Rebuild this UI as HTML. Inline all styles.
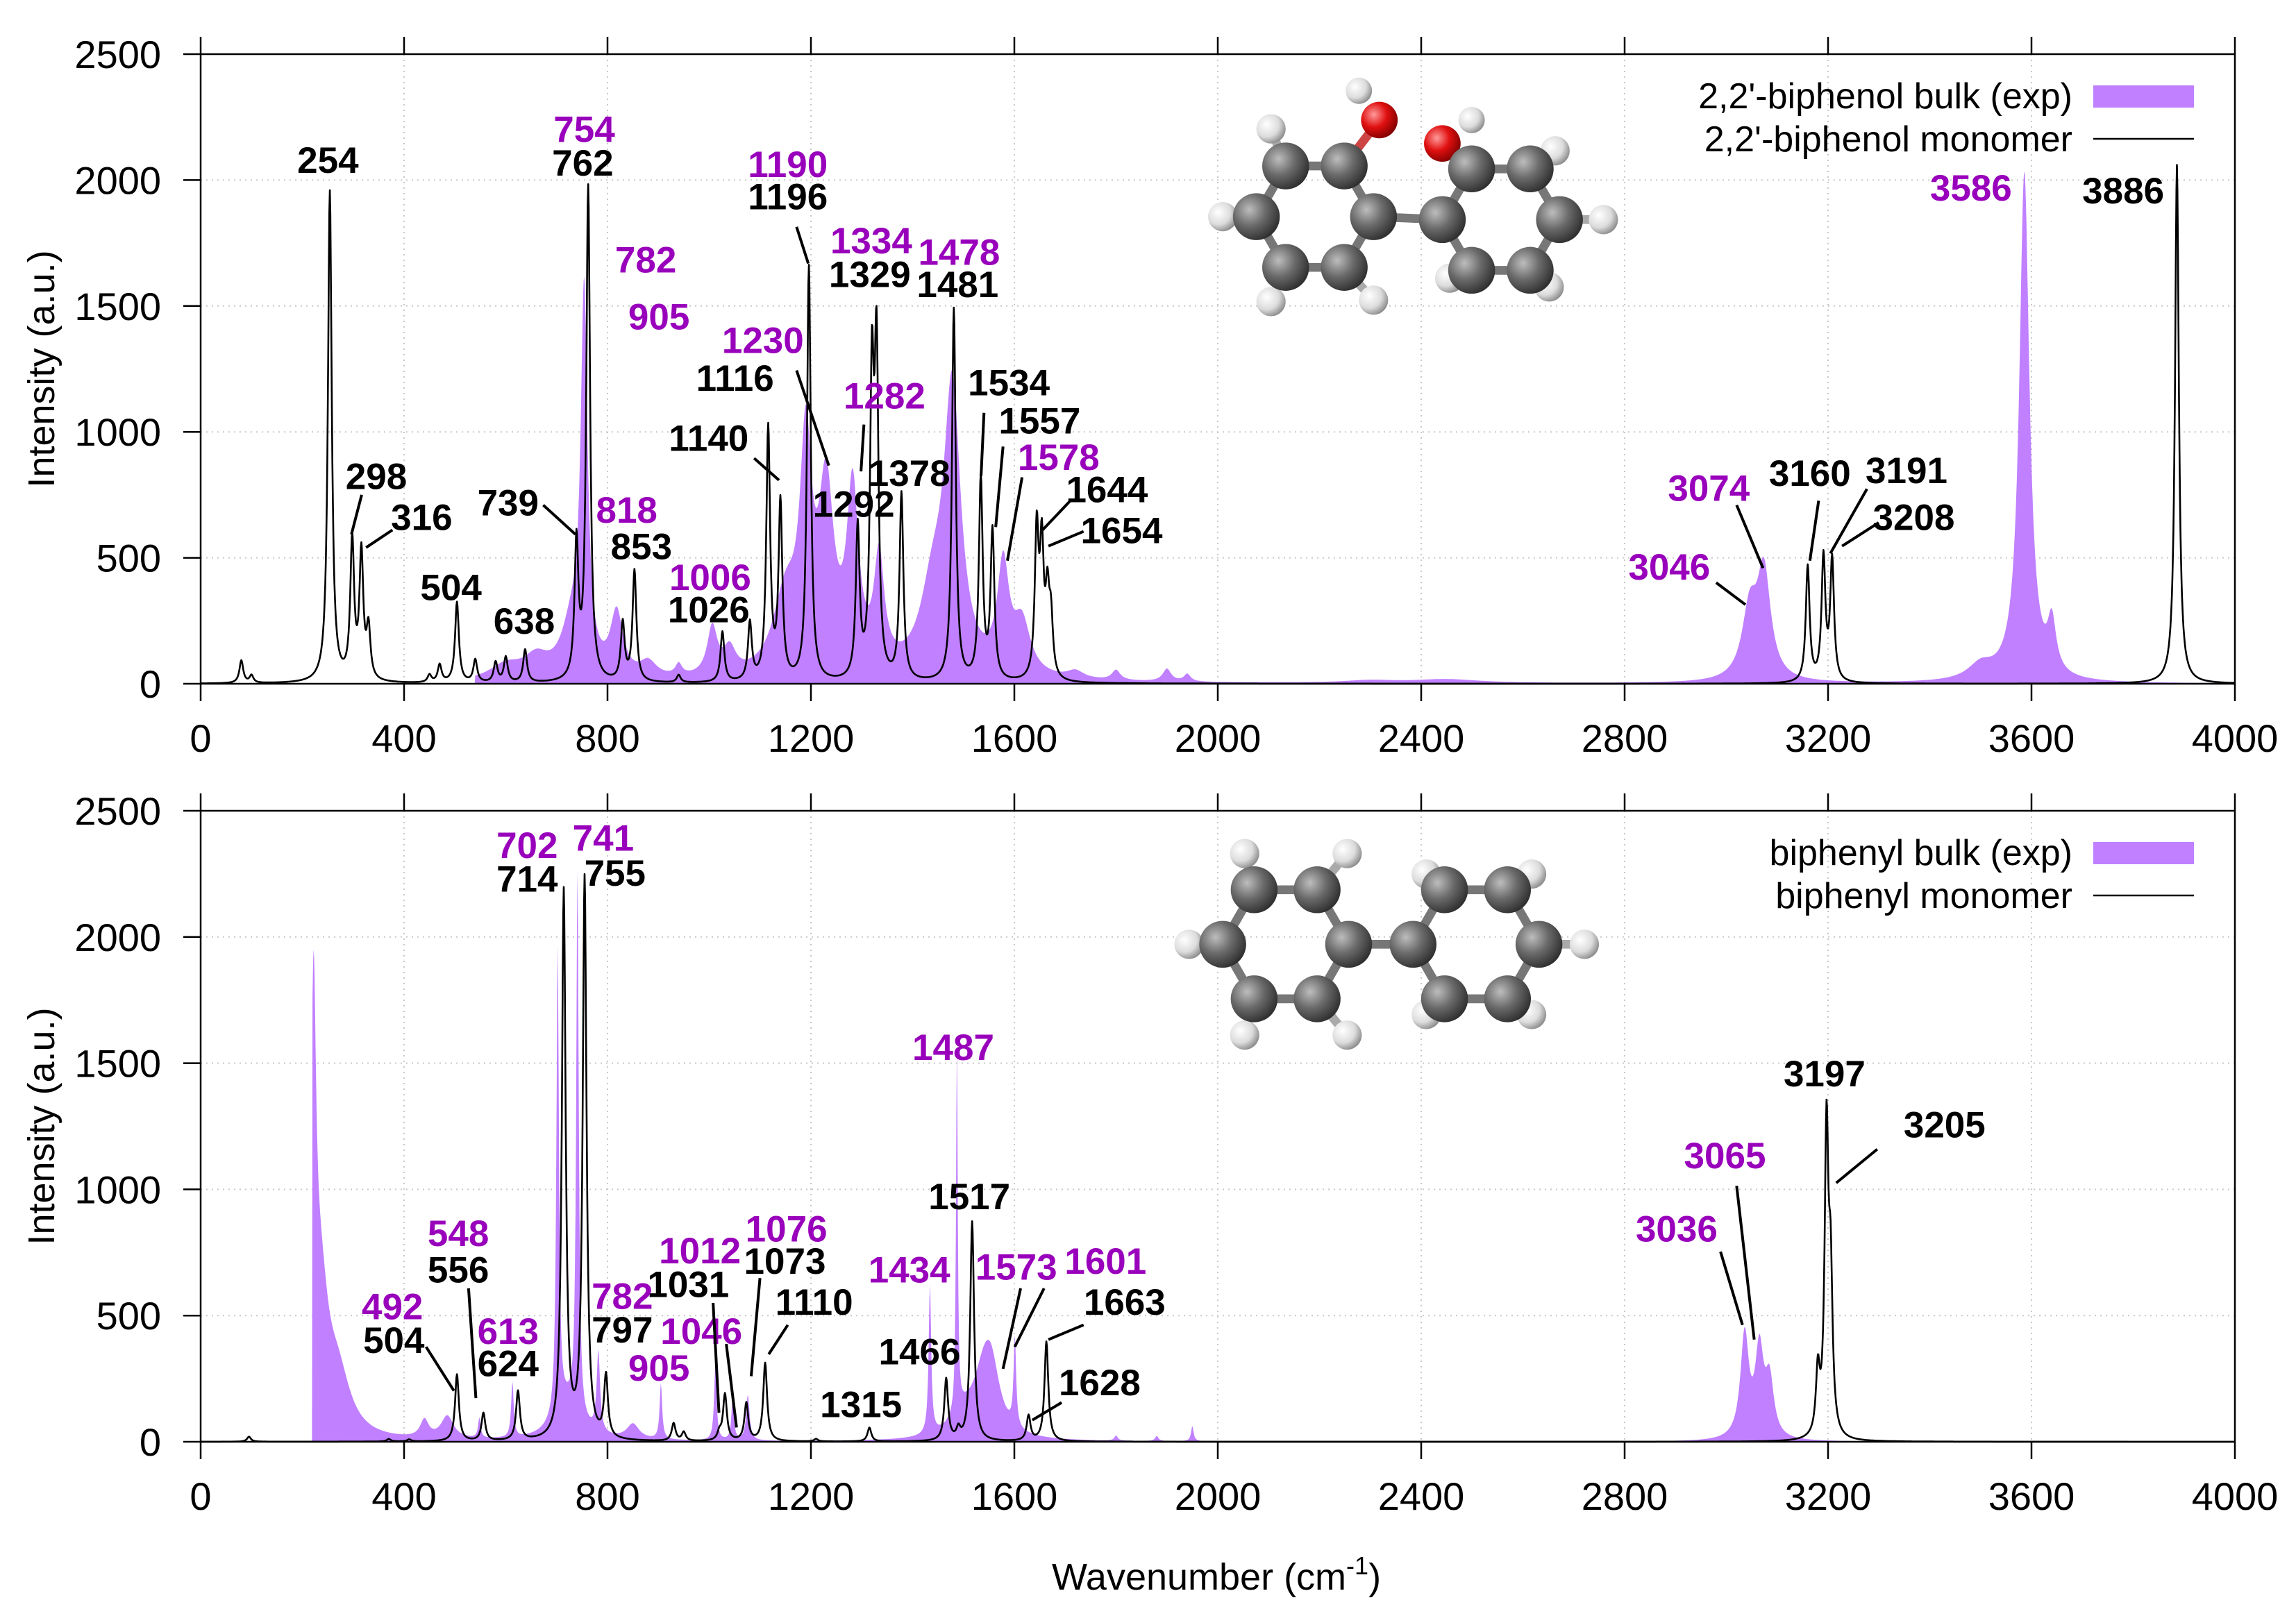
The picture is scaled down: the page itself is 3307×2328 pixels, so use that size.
<!DOCTYPE html>
<html><head><meta charset="utf-8"><style>
html,body{margin:0;padding:0;background:#fff;}
svg{display:block;font-family:"Liberation Sans",sans-serif;}
</style></head><body>
<svg id="chart" width="3307" height="2328" viewBox="0 0 3307 2328" xmlns="http://www.w3.org/2000/svg">
<defs>
<radialGradient id="gC" cx="35%" cy="35%" r="70%"><stop offset="0" stop-color="#bdbdbd"/><stop offset="0.5" stop-color="#6a6a6a"/><stop offset="1" stop-color="#2e2e2e"/></radialGradient>
<radialGradient id="gH" cx="35%" cy="35%" r="70%"><stop offset="0" stop-color="#ffffff"/><stop offset="0.6" stop-color="#dcdcdc"/><stop offset="1" stop-color="#8a8a8a"/></radialGradient>
<radialGradient id="gO" cx="35%" cy="35%" r="70%"><stop offset="0" stop-color="#ff9a9a"/><stop offset="0.5" stop-color="#e01010"/><stop offset="1" stop-color="#800000"/></radialGradient>
</defs>
<g id="root"></g>
</svg>
<script>
// ---------- data (top panel: 2,2'-biphenol) ----------
const topMonoPos = [80,100,254,298,316,330,450,470,504,540,580,600,638,739,762,830,853,940,1026,1080,1116,1140,1196,1292,1320,1329,1378,1481,1534,1557,1644,1654,1665,1672,3160,3191,3208,3886];
const topMonoInt = [90,30,1950,550,500,200,30,70,320,90,80,100,130,540,1960,230,440,30,200,230,1000,700,1650,600,1150,1250,740,1480,800,590,580,500,300,220,460,490,480,2060];
const topExpPos = [600,660,730,754,818,880,940,1006,1040,1150,1190,1230,1282,1334,1440,1478,1578,1615,1720,1800,1900,1940,2300,2450,3046,3074,3500,3586,3640];
const topExpInt = [60,80,200,1480,250,60,45,190,100,300,850,700,700,430,300,1100,420,200,30,40,50,30,10,15,270,420,60,2020,200];
const topExpWid = [40,30,25,8,15,20,8,12,15,30,14,18,14,12,30,20,14,20,20,10,10,8,60,80,18,16,30,12,10];
// ---------- data (bottom panel: biphenyl) ----------
const botMonoPos = [95,370,410,504,556,624,714,755,797,930,950,1020,1031,1073,1110,1210,1315,1466,1490,1517,1628,1663,3180,3197,3205];
const botMonoInt = [20,10,8,265,110,195,2170,2220,245,70,35,30,185,150,310,10,55,245,40,870,100,395,250,1200,580];
const botExpPos = [222,235,270,440,485,548,613,702,720,741,782,850,905,1012,1046,1076,1434,1487,1500,1540,1555,1601,1800,1880,1950,3036,3065,3085];
const botExpInt = [1500,550,220,70,90,80,220,1850,140,2150,320,60,220,290,160,180,590,1460,80,220,200,350,20,20,60,410,340,220];
const botExpWid = [6,20,30,10,15,3,3,3,30,3,4,15,3,3,3,4,3,2,30,25,20,3,4,4,3,10,10,10];
const botExpStart = 220;
const topExpStart = 540;
const yTicks = [0,500,1000,1500,2000,2500];
const xTicks = [0,400,800,1200,1600,2000,2400,2800,3200,3600,4000];

const NS="http://www.w3.org/2000/svg";
const root=document.getElementById('root');
const XL=289, XR=3219;
const panels=[{top:78,bot:985},{top:1168,bot:2077}];
const xs=v=>XL+v/4000*(XR-XL);
function ys(p,I){return p.bot-I/2500*(p.bot-p.top);}
function mk(tag,attrs,parent){const e=document.createElementNS(NS,tag);for(const k in attrs)e.setAttribute(k,attrs[k]);(parent||root).appendChild(e);return e;}

function spectrum(pos,ints,wids,defW,start){
  const pts=[];
  for(let v=0;v<=4000;v+=1){
    let s=0;
    if(v>=start){for(let i=0;i<pos.length;i++){const w=wids?wids[i]:defW;const d=(v-pos[i])/w;s+=ints[i]/(1+d*d);}}
    pts.push([v,Math.min(s,2600)]);
  }
  return pts;
}

function drawPanel(p,idx,expPts,monoPts,legExp,legMono){
  const g=mk('g',{});
  
  
  yTicks.forEach(t=>{if(t>0&&t<2500){const l=mk('line',{x1:XL,x2:XR,y1:ys(p,t),y2:ys(p,t),stroke:'#c8c8c8','stroke-width':2,'stroke-dasharray':'2,6'},g);}});
  xTicks.forEach(t=>{if(t>0&&t<4000){const l=mk('line',{x1:xs(t),x2:xs(t),y1:p.top,y2:p.bot,stroke:'#c8c8c8','stroke-width':2,'stroke-dasharray':'2,6'},g);}});
  let d='M'+xs(0)+','+ys(p,0);
  expPts.forEach(q=>{d+='L'+xs(q[0]).toFixed(1)+','+ys(p,q[1]).toFixed(1);});
  d+='L'+xs(4000)+','+ys(p,0)+'Z';
  const f=mk('path',{d:d,fill:'#c080ff',stroke:'none'},g);
  
  
  let d2='';
  monoPts.forEach((q,i)=>{d2+=(i?'L':'M')+xs(q[0]).toFixed(1)+','+ys(p,q[1]).toFixed(1);});
  const ln=mk('path',{d:d2,fill:'none',stroke:'#000','stroke-width':2.6,'stroke-linejoin':'round'},g);
  
  
  const b=mk('rect',{x:XL,y:p.top,width:XR-XL,height:p.bot-p.top,fill:'none',stroke:'#000','stroke-width':2.5},g);
  
  
  yTicks.forEach(t=>{
    const y=ys(p,t);
    const tk=mk('line',{x1:XL-25,x2:XL,y1:y,y2:y,stroke:'#000','stroke-width':2.5},g);
    
    
    const tx=mk('text',{x:232,y:y+20,'text-anchor':'end','font-size':56},g);
    tx.textContent=t;
    
    
  });
  xTicks.forEach(t=>{
    const x=xs(t);
    const tk=mk('line',{x1:x,x2:x,y1:p.bot,y2:p.bot+25,stroke:'#000','stroke-width':2.5},g);
    
    
    const tk2=mk('line',{x1:x,x2:x,y1:p.top-25,y2:p.top,stroke:'#000','stroke-width':2.5},g);
    
    
    const tx=mk('text',{x:x,y:p.bot+98,'text-anchor':'middle','font-size':56},g);
    tx.textContent=t;
    
    
  });
  const yt=mk('text',{x:0,y:0,'text-anchor':'middle','font-size':54,transform:'translate(78,'+((p.top+p.bot)/2)+') rotate(-90)'},g);
  yt.textContent='Intensity (a.u.)';
  
  
  const ly=p.top+60;
  const l1=mk('text',{x:2985,y:ly+18,'text-anchor':'end','font-size':52},g);
  l1.textContent=legExp;
  
  
  const sw=mk('rect',{x:3015,y:ly-15,width:145,height:32,fill:'#c080ff'},g);
  
  
  const l2=mk('text',{x:2985,y:ly+80,'text-anchor':'end','font-size':52},g);
  l2.textContent=legMono;
  
  
  const sl=mk('line',{x1:3015,x2:3160,y1:ly+62,y2:ly+62,stroke:'#000','stroke-width':2.6},g);
  
  
}

drawPanel(panels[0],0,spectrum(topExpPos,topExpInt,topExpWid,0,topExpStart),spectrum(topMonoPos,topMonoInt,null,4.5,0),"2,2'-biphenol bulk (exp)","2,2'-biphenol monomer");
drawPanel(panels[1],1,spectrum(botExpPos,botExpInt,botExpWid,0,botExpStart),spectrum(botMonoPos,botMonoInt,null,4.5,0),"biphenyl bulk (exp)","biphenyl monomer");

const xt=mk('text',{x:1752,y:2290,'text-anchor':'middle','font-size':54});


xt.innerHTML='Wavenumber (cm<tspan dy="-22" font-size="36">-1</tspan><tspan dy="22">)</tspan>';

const S=3307/1568;
const PUR='#9900bb';
const labs=[
 ['254',224,118,0],['298',257,334,0],['316',288,362,0],['504',308,410,0],['638',358,433,0],['739',347,352,0],['762',398,120,0],['853',438,382,0],['1026',484,425,0],['1116',502,267,0],['1140',484,308,0],['1196',538,143,0],['1329',594,196,0],['1481',654,203,0],['1378',621,332,0],['1292',583,353,0],['1534',689,270,0],['1557',710,296,0],['1644',756,343,0],['1654',766,371,0],['3160',1236,332,0],['3191',1302,330,0],['3208',1307,362,0],['3886',1450,139,0],
 ['754',399,97,1],['782',441,186,1],['905',450,225,1],['818',428,357,1],['1006',485,403,1],['1190',538,121,1],['1230',521,241,1],['1282',604,279,1],['1334',595,173,1],['1478',655,181,1],['1578',723,321,1],['3074',1167,342,1],['3046',1140,396,1],['3586',1346,137,1],
 ['504',269,924,0],['556',313,876,0],['624',347,940,0],['714',360,609,0],['755',420,605,0],['797',425,917,0],['1031',470,886,0],['1073',536,870,0],['1110',556,898,0],['1315',588,968,0],['1466',628,932,0],['1517',662,826,0],['1628',751,953,0],['1663',768,898,0],['3197',1246,742,0],['3205',1328,777,0],
 ['492',268,901,1],['548',313,851,1],['613',347,918,1],['702',360,586,1],['741',412,581,1],['782',425,894,1],['905',450,943,1],['1012',478,863,1],['1046',479,918,1],['1076',537,848,1],['1434',621,876,1],['1487',651,724,1],['1573',694,874,1],['1601',755,870,1],['3065',1178,798,1],['3036',1145,848,1]
];
labs.forEach(a=>{
  const t=mk('text',{x:(a[1]*S).toFixed(1),y:(a[2]*S).toFixed(1),'text-anchor':'middle','font-size':53,'font-weight':'bold',fill:a[3]?PUR:'#000'});
  t.textContent=a[0];
  
  
});
const leaders=[[247,338,240,365],[268,362,250,374],[371,345,393,365],[515,313,532,328],[544,155,552,180],[544,253,566,318],[590,290,588,322],[672,282,670,325],[685,305,680,360],[698,326,688,383],[731,342,712,362],[740,363,716,373],[1186,345,1204,388],[1172,398,1192,413],[1242,342,1236,383],[1275,334,1250,378],[1283,357,1258,373],
 [291,920,310,950],[320,880,325,955],[487,890,491,965],[496,918,503,975],[519,873,513,940],[538,905,525,925],[697,880,685,935],[713,880,693,920],[740,905,716,915],[725,958,705,970],[1282,785,1254,808],[1186,810,1198,915],[1175,855,1190,905]];
leaders.forEach(l=>{
  const e=mk('line',{x1:l[0]*S,y1:l[1]*S,x2:l[2]*S,y2:l[3]*S,stroke:'#000','stroke-width':4});
  
  
});

function atom(g,x,y,r,grad){const c=mk('circle',{cx:x*S,cy:y*S,r:r*S,fill:'url(#'+grad+')'},g);}
function bond(g,x1,y1,x2,y2,col){const l=mk('line',{x1:x1*S,y1:y1*S,x2:x2*S,y2:y2*S,stroke:col||'#777','stroke-width':6*S,'stroke-linecap':'round'},g);}
function ring(cx,cy,R,rot){const p=[];for(let i=0;i<6;i++){const a=(rot+60*i)*Math.PI/180;p.push([cx+R*Math.cos(a),cy+R*Math.sin(a)]);}return p;}
function molecule(name,r1,r2,hs,os){
  const g=mk('g',{});
  
  
  [r1,r2].forEach(r=>{for(let i=0;i<6;i++){const a=r[i],b=r[(i+1)%6];bond(g,a[0],a[1],b[0],b[1]);}});
  hs.forEach(h=>bond(g,h[0],h[1],h[2],h[3],'#aaa'));
  os.forEach(o=>{bond(g,o[0],o[1],o[2],o[3],'#c44');});
  bond(g,r1[0][0],r1[0][1],r2[3][0],r2[3][1]);
  hs.forEach(h=>atom(g,h[0],h[1],10,'gH'));
  os.forEach(o=>{atom(g,o[4],o[5],9,'gH');atom(g,o[0],o[1],12.5,'gO');});
  [r1,r2].forEach(r=>r.forEach(a=>atom(g,a[0],a[1],16,'gC')));
}
(function(){
  const r1=ring(898,148,40,0), r2=ring(1025,150,40,0);
  const hs=[[868,88,r1[4][0],r1[4][1]],[835,148,r1[3][0],r1[3][1]],[868,206,r1[2][0],r1[2][1]],[938,205,r1[1][0],r1[1][1]],
            [1062,103,r2[5][0],r2[5][1]],[1095,150,r2[0][0],r2[0][1]],[1058,196,r2[1][0],r2[1][1]],[990,190,r2[2][0],r2[2][1]]];
  const os=[[942,82,r1[5][0],r1[5][1],928,62],[985,98,r2[4][0],r2[4][1],1005,82]];
  molecule('biphenol-molecule',r1,r2,hs,os);
  const b1=ring(878,645,43,0), b2=ring(1008,645,43,0);
  const bh=[[850,583,b1[4][0],b1[4][1]],[812,645,b1[3][0],b1[3][1]],[850,707,b1[2][0],b1[2][1]],[920,707,b1[1][0],b1[1][1]],[920,583,b1[5][0],b1[5][1]],
            [974,597,b2[4][0],b2[4][1]],[1046,597,b2[5][0],b2[5][1]],[1082,645,b2[0][0],b2[0][1]],[1046,693,b2[1][0],b2[1][1]],[974,693,b2[2][0],b2[2][1]]];
  molecule('biphenyl-molecule',b1,b2,bh,[]);
})();
</script>
</body></html>
